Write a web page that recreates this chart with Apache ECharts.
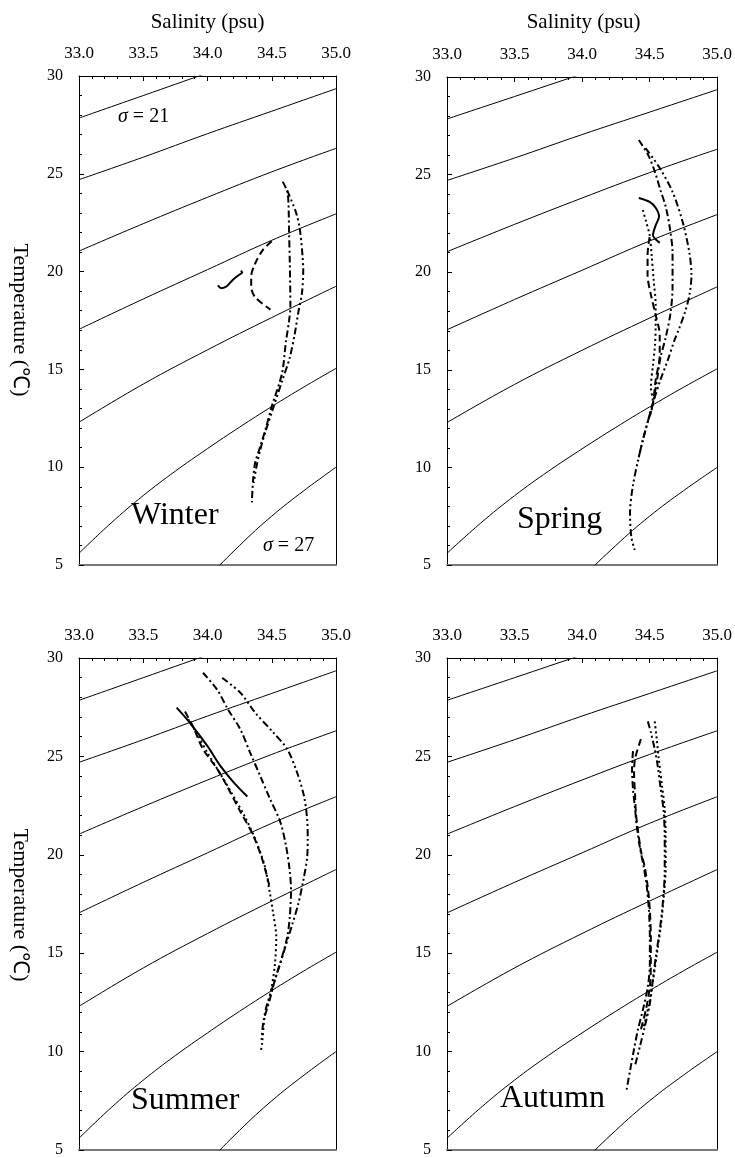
<!DOCTYPE html>
<html>
<head>
<meta charset="utf-8">
<title>T-S diagrams</title>
<script src="https://cdn.jsdelivr.net/npm/echarts@6/dist/echarts.min.js"></script>
<style>
  html, body { margin: 0; padding: 0; background: #fff; }
  #chart { width: 735px; height: 1158px; }
</style>
</head>
<body>
<div id="chart"></div>
<script>
const salinityTicks = [33.0, 33.5, 34.0, 34.5, 35.0]
const temperatureTicks = [5, 10, 15, 20, 25, 30]
const seasons = ['Winter', 'Spring', 'Summer', 'Autumn']

// sigma-t isopycnals, [salinity, temperature]
const sigma21 = [[33.0, 27.85], [33.5, 29.0], [34.0, 30.15], [34.5, 31.25]]
const sigma22 = [[33.0, 24.7], [33.5, 25.85], [34.0, 27.05], [34.5, 28.2], [35.0, 29.35]]
const sigma23 = [[33.0, 21.05], [33.5, 22.45], [34.0, 23.8], [34.5, 25.1], [35.0, 26.3]]
const sigma24 = [[33.0, 17.05], [33.5, 18.6], [34.0, 20.1], [34.5, 21.6], [35.0, 22.95]]
const sigma25 = [[33.0, 12.3], [33.5, 14.25], [34.0, 16.0], [34.5, 17.65], [35.0, 19.25]]
const sigma26 = [[33.0, 5.6], [33.25, 7.15], [33.5, 8.55], [33.75, 9.8], [34.0, 10.95], [34.25, 12.05], [34.5, 13.1], [34.75, 14.1], [35.0, 15.05]]
const sigma27 = [[33.8, 2.6], [34.0, 4.3], [34.25, 6.0], [34.5, 7.5], [34.75, 8.8], [35.0, 10.0]]

// winter profiles
const winterSolid = [[34.08, 19.3], [34.11, 19.15], [34.15, 19.25], [34.2, 19.6], [34.25, 19.85], [34.27, 19.95], [34.26, 20.05]]
const winterDashed = [[34.5, 21.55], [34.43, 21.1], [34.37, 20.4], [34.34, 19.75], [34.34, 19.25], [34.37, 18.7], [34.49, 18.05]]
const winterDashDot = [[34.585, 24.6], [34.62, 24.1], [34.63, 23.5], [34.635, 21.95], [34.64, 20.6], [34.645, 18.2], [34.635, 17.5], [34.61, 16.4], [34.58, 14.8], [34.5, 13.1], [34.45, 11.9], [34.41, 11.05], [34.37, 10.2], [34.355, 9.35], [34.345, 8.2]]
const winterDashDotDot = [[34.62, 24.15], [34.69, 23.0], [34.72, 22.1], [34.74, 20.75], [34.745, 20.1], [34.735, 18.9], [34.705, 17.85], [34.68, 16.85], [34.64, 15.6], [34.58, 14.4], [34.51, 13.0], [34.455, 11.9], [34.415, 11.0], [34.38, 10.0], [34.36, 9.2]]

// spring profiles
const springSolid = [[34.42, 23.8], [34.5, 23.6], [34.545, 23.3], [34.57, 22.85], [34.545, 22.4], [34.525, 21.9], [34.575, 21.5]]
const springDashed = [[34.5, 21.8], [34.485, 20.88], [34.485, 19.86], [34.51, 18.83], [34.545, 17.81], [34.575, 16.78], [34.575, 15.76], [34.545, 14.48], [34.525, 13.3], [34.49, 12.4]]
const springDotted = [[34.45, 23.19], [34.475, 22.57], [34.5, 21.91], [34.515, 20.88], [34.53, 19.6], [34.545, 18.32], [34.545, 17.3], [34.54, 16.27], [34.525, 15.25], [34.51, 14.12], [34.525, 13.3], [34.5, 12.6]]
const springDashDot = [[34.42, 26.77], [34.49, 26.0], [34.54, 25.13], [34.58, 24.21], [34.62, 23.34], [34.65, 22.26], [34.67, 20.98], [34.67, 19.24], [34.655, 17.91], [34.62, 16.68], [34.58, 15.6], [34.555, 14.48], [34.525, 13.3], [34.49, 12.43], [34.45, 11.4], [34.415, 10.38]]
const springDashDotDot = [[34.47, 26.36], [34.575, 25.34], [34.67, 24.11], [34.745, 22.57], [34.795, 20.98], [34.81, 19.86], [34.795, 18.83], [34.76, 17.91], [34.72, 17.14], [34.685, 16.53], [34.635, 15.5], [34.58, 14.48], [34.525, 13.3], [34.49, 12.43], [34.45, 11.4], [34.415, 10.38], [34.375, 9.0], [34.355, 7.66], [34.365, 6.43], [34.39, 5.77]]

// summer profiles
const summerSolid = [[33.76, 27.48], [33.86, 26.73], [34.0, 25.52], [34.1, 24.52], [34.2, 23.71], [34.31, 22.96]]
const summerDashed = [[33.825, 27.28], [33.89, 26.48], [33.965, 25.37], [34.075, 24.37], [34.15, 23.51], [34.255, 22.2], [34.355, 21.0], [34.43, 19.69], [34.485, 18.33]]
const summerDotted = [[33.85, 26.88], [33.92, 26.13], [34.005, 25.12], [34.1, 24.11], [34.19, 23.11], [34.29, 21.95], [34.375, 20.74], [34.445, 19.44], [34.485, 18.08], [34.51, 17.07], [34.535, 15.81], [34.525, 14.46], [34.5, 13.3], [34.47, 12.44], [34.445, 11.79], [34.425, 10.43], [34.415, 10.03]]
const summerDashDot = [[33.965, 29.25], [34.075, 28.39], [34.16, 27.38], [34.255, 26.38], [34.33, 25.22], [34.41, 24.01], [34.485, 22.86], [34.565, 21.7], [34.61, 20.49], [34.64, 19.18], [34.65, 18.18], [34.64, 16.82], [34.62, 15.81], [34.58, 14.81], [34.525, 13.65], [34.485, 12.65], [34.445, 11.79]]
const summerDashDotDot = [[34.115, 28.99], [34.255, 28.24], [34.37, 27.23], [34.51, 26.23], [34.62, 25.37], [34.695, 24.22], [34.75, 23.01], [34.775, 21.85], [34.78, 20.85], [34.775, 19.84], [34.745, 18.68], [34.705, 17.47], [34.66, 16.47], [34.605, 15.31], [34.55, 14.15], [34.5, 13.15], [34.455, 12.19], [34.43, 11.29], [34.42, 10.5]]

// autumn profiles
const autumnDashed = [[34.436, 25.88], [34.392, 24.87], [34.385, 24.11], [34.392, 23.11], [34.399, 22.1], [34.414, 21.25], [34.436, 20.19], [34.465, 19.34], [34.487, 18.33], [34.502, 17.17], [34.509, 15.81], [34.509, 14.46], [34.502, 13.3], [34.473, 12.14], [34.436, 11.13]]
const autumnDashDot = [[34.377, 25.27], [34.37, 24.37], [34.377, 23.36], [34.392, 22.35], [34.407, 21.35], [34.429, 20.34], [34.458, 19.34], [34.48, 18.33], [34.495, 17.17], [34.502, 15.81], [34.502, 14.46], [34.487, 13.3], [34.451, 12.14], [34.414, 11.13], [34.385, 10.13], [34.355, 9.02], [34.326, 7.92]]
const autumnDashDotDot = [[34.487, 26.78], [34.509, 26.23], [34.538, 25.37], [34.56, 24.52], [34.582, 23.36], [34.604, 22.2], [34.612, 20.85], [34.612, 19.18], [34.597, 17.47], [34.575, 16.17], [34.546, 14.81], [34.524, 13.65], [34.502, 12.44], [34.465, 11.29], [34.429, 10.28], [34.392, 9.28]]
const autumnDotted = [[34.538, 26.78], [34.553, 25.88], [34.568, 24.87], [34.59, 23.61], [34.612, 22.35], [34.619, 20.85], [34.619, 19.34], [34.604, 17.83], [34.582, 16.32], [34.553, 14.91], [34.524, 13.55], [34.495, 12.39], [34.458, 11.29]]

const isopycnals = [sigma21, sigma22, sigma23, sigma24, sigma25, sigma26, sigma27]

const dashes = {
  solid: 'solid',
  dashed: [7, 4],
  dotted: [2, 3],
  dashDot: [7, 3, 2, 3],
  dashDotDot: [7, 3, 2, 3, 2, 3]
}

const profiles = [
  [['solid', winterSolid], ['dashed', winterDashed], ['dashDot', winterDashDot], ['dashDotDot', winterDashDotDot]],
  [['solid', springSolid], ['dashed', springDashed], ['dotted', springDotted], ['dashDot', springDashDot], ['dashDotDot', springDashDotDot]],
  [['solid', summerSolid], ['dashed', summerDashed], ['dotted', summerDotted], ['dashDot', summerDashDot], ['dashDotDot', summerDashDotDot]],
  [['dashed', autumnDashed], ['dashDot', autumnDashDot], ['dashDotDot', autumnDashDotDot], ['dotted', autumnDotted]]
]

const serif = "'Liberation Serif', 'Times New Roman', serif"
const grids = [
  { left: 79, top: 76, width: 257, height: 489 },
  { left: 447, top: 77, width: 273, height: 488 },
  { left: 79, top: 658, width: 257, height: 494 },
  { left: 447, top: 658, width: 273, height: 494 }
]

const xAxes = []
const yAxes = []
const series = []

grids.forEach((g, i) => {
  xAxes.push({
    gridIndex: i,
    type: 'value',
    position: 'top',
    min: salinityTicks[0],
    max: salinityTicks[salinityTicks.length - 1],
    interval: 0.5,
    axisLine: { onZero: false, lineStyle: { color: '#000', width: 1 } },
    axisTick: { inside: true, length: 5, lineStyle: { color: '#000' } },
    minorTick: { show: true, splitNumber: 5, length: 3, lineStyle: { color: '#000' } },
    splitLine: { show: false },
    axisLabel: {
      fontFamily: serif, fontSize: 17, color: '#000', margin: 14,
      formatter: v => v.toFixed(1)
    }
  })
  // bottom frame edge
  xAxes.push({
    gridIndex: i,
    type: 'value',
    position: 'bottom',
    min: 0, max: 1,
    axisLine: { onZero: false, lineStyle: { color: '#7a7a7a', width: 2 } },
    axisTick: { show: false },
    axisLabel: { show: false },
    splitLine: { show: false }
  })
  yAxes.push({
    gridIndex: i,
    type: 'value',
    position: 'left',
    min: temperatureTicks[0],
    max: temperatureTicks[temperatureTicks.length - 1],
    interval: 5,
    axisLine: { show: true, onZero: false, lineStyle: { color: '#000', width: 1 } },
    axisTick: { show: true, inside: true, length: 5, lineStyle: { color: '#000' } },
    minorTick: { show: true, splitNumber: 5, length: 3, lineStyle: { color: '#000' } },
    splitLine: { show: false },
    axisLabel: { fontFamily: serif, fontSize: 16, color: '#000', margin: 16 }
  })
  // right frame edge
  yAxes.push({
    gridIndex: i,
    type: 'value',
    position: 'right',
    min: 0, max: 1,
    axisLine: { show: true, onZero: false, lineStyle: { color: '#000', width: 1 } },
    axisTick: { show: false },
    axisLabel: { show: false },
    splitLine: { show: false }
  })

  isopycnals.forEach(d => {
    series.push({
      type: 'line',
      xAxisIndex: i * 2,
      yAxisIndex: i * 2,
      data: d,
      symbol: 'none',
      smooth: 0.4,
      silent: true,
      lineStyle: { color: '#000', width: 1 }
    })
  })

  profiles[i].forEach(([style, d]) => {
    series.push({
      type: 'line',
      xAxisIndex: i * 2,
      yAxisIndex: i * 2,
      data: d,
      symbol: 'none',
      smooth: 0.3,
      silent: true,
      z: 3,
      lineStyle: { color: '#000', width: 2, type: dashes[style], cap: 'butt' }
    })
  })
})

const text = (str, x, y, size, align, rotation) => ({
  type: 'text',
  x, y,
  rotation: rotation || 0,
  style: {
    text: str,
    fontFamily: serif,
    fontSize: size,
    fill: '#000',
    textAlign: align || 'left',
    textVerticalAlign: 'middle'
  }
})

const sigmaLabel = (n, x, y) => ({
  type: 'text',
  x, y,
  style: {
    text: '{i|σ} = ' + n,
    fontFamily: serif,
    fontSize: 20,
    fill: '#000',
    textVerticalAlign: 'middle',
    rich: { i: { fontFamily: serif, fontSize: 20, fontStyle: 'italic', fill: '#000' } }
  }
})

const graphic = [
  text('Salinity (psu)', 207.5, 22, 21, 'center'),
  text('Salinity (psu)', 583.5, 22, 21, 'center'),
  text('Temperature (℃)', 20, 320, 22, 'center', -Math.PI / 2),
  text('Temperature (℃)', 20, 905, 22, 'center', -Math.PI / 2),
  text(seasons[0], 131, 516, 32),
  text(seasons[1], 517, 520, 32),
  text(seasons[2], 131, 1101, 32),
  text(seasons[3], 500, 1099, 32),
  sigmaLabel(21, 118, 117),
  sigmaLabel(27, 263, 546)
]

const chart = echarts.init(document.getElementById('chart'), null, { renderer: 'canvas' })
chart.setOption({
  animation: false,
  backgroundColor: '#fff',
  grid: grids.map(g => Object.assign({ show: false }, g)),
  xAxis: xAxes,
  yAxis: yAxes,
  series,
  graphic
})
</script>
</body>
</html>
